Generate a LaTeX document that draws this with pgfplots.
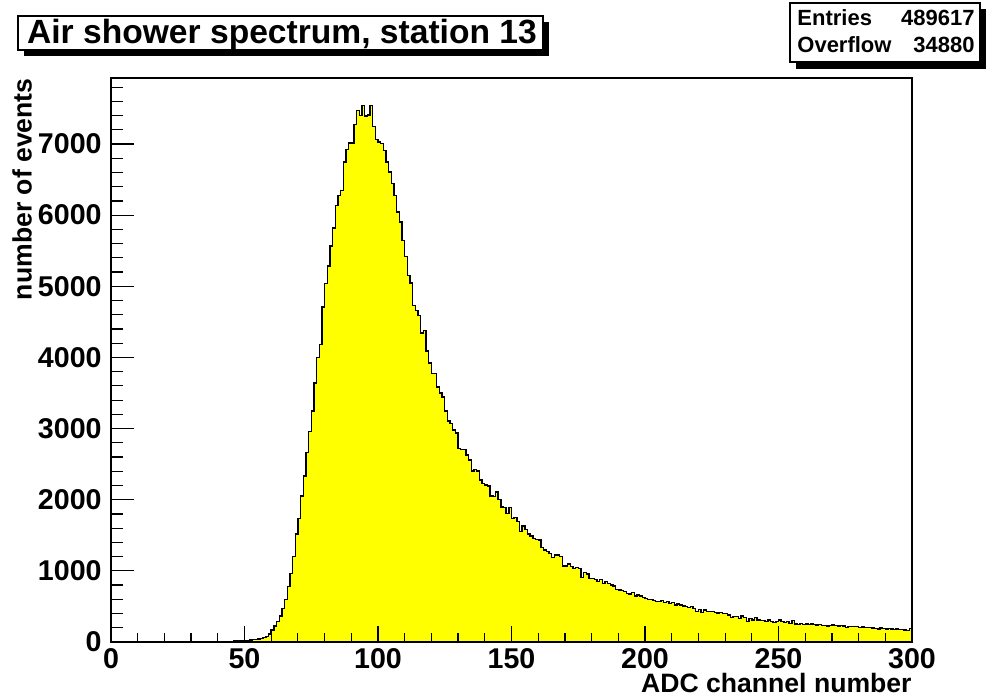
\documentclass[border=0pt]{standalone}
\usepackage{fontspec}
\setmainfont{Liberation Sans}
\usepackage{pgfplots}
\pgfplotsset{compat=1.18}
\definecolor{histyellow}{RGB}{255,255,0}

\begin{document}
\begin{tikzpicture}[x=1pt,y=1pt]
\useasboundingbox (0,0) rectangle (495.5,350);

% title box with shadow
\fill[black] (12,322) rectangle (274.5,339);
\draw[black,fill=white,line width=0.6pt] (9,325) rectangle (271.5,342);
\node[anchor=base,inner sep=0,font=\fontsize{16.8}{18}\selectfont\bfseries] at (141,328.3) {Air shower spectrum, station 13};

% stats box with shadow
\fill[black] (398,315.5) rectangle (493,345.5);
\draw[black,fill=white,line width=0.6pt] (395,319) rectangle (490,348.5);
\begin{scope}[every node/.style={inner sep=0,font=\fontsize{11}{13}\selectfont\bfseries}]
\node[anchor=base west] at (398.5,337) {Entries};
\node[anchor=base east] at (487.5,337) {489617};
\node[anchor=base west] at (398.5,323.5) {Overflow};
\node[anchor=base east] at (487.5,323.5) {34880};
\end{scope}

\begin{axis}[
  at={(55.5pt,29pt)}, anchor=south west,
  scale only axis, width=400.5pt, height=282pt,
  xmin=0, xmax=300, ymin=0, ymax=7928,
  axis on top,
  axis line style={line width=0.75pt},
  tick pos=left, tick align=inside,
  every tick/.style={black,line width=0.6pt},
  xtick={0,50,...,300}, minor xtick={10,20,...,290},
  ytick={0,1000,...,7000}, minor ytick={200,400,...,7800},
  xtick style={/pgfplots/major tick length=8pt,/pgfplots/minor tick length=4.3pt},
  ytick style={/pgfplots/major tick length=11.5pt,/pgfplots/minor tick length=6pt},
  scaled y ticks=false,
  /pgf/number format/assume math mode=true,
  /pgf/number format/1000 sep={},
  ticklabel style={font=\fontsize{14.3}{16}\selectfont\bfseries},
  xticklabel style={inner sep=0,yshift=-3pt},
  yticklabel style={inner sep=0,xshift=-4.5pt},
  xlabel={ADC channel number},
  xlabel style={at={(axis description cs:1,0)},anchor=east,inner sep=0,yshift=-20.5pt,
    font=\fontsize{13.3}{15}\selectfont\bfseries},
  ylabel={number of events},
  ylabel style={at={(axis description cs:-0.111,1)},anchor=east,inner sep=0,
    font=\fontsize{13.3}{15}\selectfont\bfseries},
]
\addplot[const plot mark left, fill=histyellow, draw=black, line width=0.7pt] coordinates {
(0,2)(1,1)(2,2)(3,1)(4,2)(5,3)(6,2)(7,2)(8,3)(9,2)
(10,3)(11,2)(12,3)(13,2)(14,3)(15,3)(16,2)(17,3)(18,3)(19,4)
(20,3)(21,4)(22,3)(23,4)(24,4)(25,3)(26,4)(27,5)(28,4)(29,5)
(30,5)(31,4)(32,5)(33,6)(34,5)(35,6)(36,6)(37,7)(38,6)(39,7)
(40,8)(41,8)(42,9)(43,9)(44,10)(45,11)(46,12)(47,12)(48,14)(49,16)
(50,18)(51,22)(52,28)(53,32)(54,36)(55,40)(56,50)(57,60)(58,75)(59,112)
(60,168)(61,225)(62,285)(63,365)(64,473)(65,600)(66,777)(67,967)(68,1198)(69,1517)
(70,1740)(71,2055)(72,2331)(73,2660)(74,2963)(75,3249)(76,3642)(77,3998)(78,4185)(79,4710)
(80,5040)(81,5285)(82,5566)(83,5820)(84,6138)(85,6278)(86,6343)(87,6746)(88,6924)(89,7013)
(90,7013)(91,7271)(92,7472)(93,7400)(94,7542)(95,7392)(96,7410)(97,7542)(98,7247)(99,7065)
(100,7030)(101,7004)(102,6910)(103,6746)(104,6606)(105,6442)(106,6278)(107,6044)(108,5903)(109,5646)
(110,5420)(111,5154)(112,5047)(113,4733)(114,4663)(115,4593)(116,4344)(117,4382)(118,4091)(119,3923)
(120,3774)(121,3774)(122,3586)(123,3502)(124,3445)(125,3249)(126,3108)(127,3071)(128,2978)(129,2940)
(130,2720)(131,2706)(132,2706)(133,2626)(134,2556)(135,2406)(136,2425)(137,2406)(138,2275)(139,2229)
(140,2205)(141,2191)(142,2051)(143,2041)(144,2111)(145,2004)(146,1900)(147,1892)(148,1808)(149,1892)
(150,1737)(151,1747)(152,1690)(153,1549)(154,1629)(155,1583)(156,1520)(157,1489)(158,1456)(159,1440)
(160,1433)(161,1330)(162,1292)(163,1269)(164,1245)(165,1189)(166,1222)(167,1222)(168,1199)(169,1067)
(170,1067)(171,1096)(172,1058)(173,1035)(174,1049)(175,1035)(176,908)(177,974)(178,955)(179,894)
(180,894)(181,880)(182,847)(183,880)(184,824)(185,847)(186,824)(187,801)(188,787)(189,740)
(190,730)(191,721)(192,707)(193,684)(194,674)(195,693)(196,646)(197,660)(198,646)(199,627)
(200,613)(201,599)(202,599)(203,580)(204,566)(205,566)(206,580)(207,552)(208,566)(209,543)
(210,552)(211,520)(212,534)(213,520)(214,506)(215,496)(216,487)(217,496)(218,473)(219,426)
(220,459)(221,412)(222,449)(223,426)(224,430)(225,425)(226,415)(227,410)(228,418)(229,403)
(230,400)(231,379)(232,342)(233,356)(234,356)(235,332)(236,365)(237,346)(238,286)(239,332)
(240,309)(241,346)(242,309)(243,300)(244,300)(245,286)(246,309)(247,286)(248,272)(249,286)
(250,309)(251,286)(252,272)(253,286)(254,262)(255,300)(256,253)(257,250)(258,262)(259,245)
(260,253)(261,248)(262,253)(263,245)(264,239)(265,245)(266,235)(267,232)(268,225)(269,230)
(270,239)(271,228)(272,225)(273,230)(274,225)(275,206)(276,215)(277,220)(278,215)(279,216)
(280,206)(281,210)(282,200)(283,206)(284,200)(285,196)(286,192)(287,185)(288,195)(289,190)
(290,180)(291,188)(292,182)(293,178)(294,183)(295,175)(296,172)(297,170)(298,165)(299,190)
(300,190)
} \closedcycle;
\end{axis}
\end{tikzpicture}
\end{document}
